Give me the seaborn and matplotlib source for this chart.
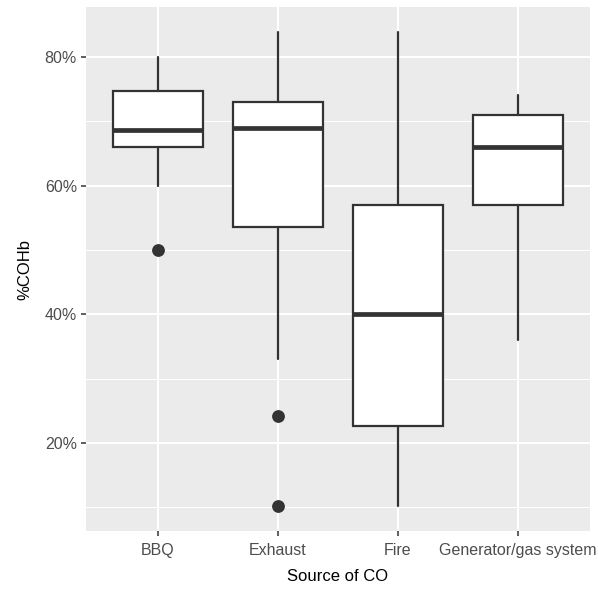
import matplotlib
matplotlib.use("Agg")
import matplotlib.pyplot as plt
import seaborn as sns
from matplotlib.ticker import FuncFormatter, MultipleLocator

# Data (values in % COHb)
categories = ["BBQ", "Exhaust", "Fire", "Generator/gas system"]
whisker_low = [60.0, 33.0, 10.2, 36.0]
q1 = [66.0, 53.5, 22.6, 57.0]
median = [68.7, 69.0, 40.0, 66.0]
q3 = [74.7, 73.0, 57.0, 71.0]
whisker_high = [80.0, 83.8, 83.8, 74.0]
outliers = [[50.0], [24.2, 10.2], [], []]

sns.set_theme(style="darkgrid", rc={
    "axes.facecolor": "#EBEBEB",
    "grid.color": "white",
    "axes.edgecolor": "none",
    "xtick.bottom": True,
    "ytick.left": True,
})
plt.rcParams["font.family"] = ["Liberation Sans", "DejaVu Sans"]

fig = plt.figure(figsize=(5.98, 5.90), dpi=100)
ax = fig.add_axes([86 / 598, 1 - 531 / 590, (590 - 86) / 598, (531 - 7.3) / 590])

stats = []
for i, cat in enumerate(categories):
    stats.append({
        "label": cat,
        "whislo": whisker_low[i],
        "q1": q1[i],
        "med": median[i],
        "q3": q3[i],
        "whishi": whisker_high[i],
        "fliers": outliers[i],
    })

line_c = "#333333"
ax.bxp(
    stats,
    positions=range(len(categories)),
    widths=0.75,
    showcaps=False,
    patch_artist=True,
    boxprops=dict(facecolor="white", edgecolor=line_c, linewidth=1.6),
    whiskerprops=dict(color=line_c, linewidth=1.6),
    medianprops=dict(color=line_c, linewidth=3.4, solid_capstyle="butt"),
    flierprops=dict(marker="o", markerfacecolor=line_c, markeredgecolor=line_c,
                    markersize=8.2, linestyle="none"),
    zorder=3,
)

ax.set_xlim(-0.6, 3.6)
ax.set_ylim(6.3, 87.7)
ax.yaxis.set_major_locator(MultipleLocator(20))
ax.yaxis.set_minor_locator(MultipleLocator(10))
ax.yaxis.set_major_formatter(FuncFormatter(lambda v, p: f"{v:.0f}%"))
ax.set_xticks(range(len(categories)))
ax.set_xticklabels(categories)

ax.grid(which="major", color="white", linewidth=1.5)
ax.grid(which="minor", axis="y", color="white", linewidth=0.75)
ax.set_axisbelow(True)

ax.tick_params(axis="both", which="major", length=3.5, width=1.1, color=line_c,
               labelsize=11.5, labelcolor="#4D4D4D", pad=3)
ax.tick_params(axis="x", which="major", pad=5)
ax.tick_params(axis="y", which="minor", length=0)

ax.set_xlabel("Source of CO", fontsize=12, color="black", labelpad=8)
ax.set_ylabel("%COHb", fontsize=12, color="black", labelpad=9)

for s in ax.spines.values():
    s.set_visible(False)

fig.savefig("out.png", dpi=100)
